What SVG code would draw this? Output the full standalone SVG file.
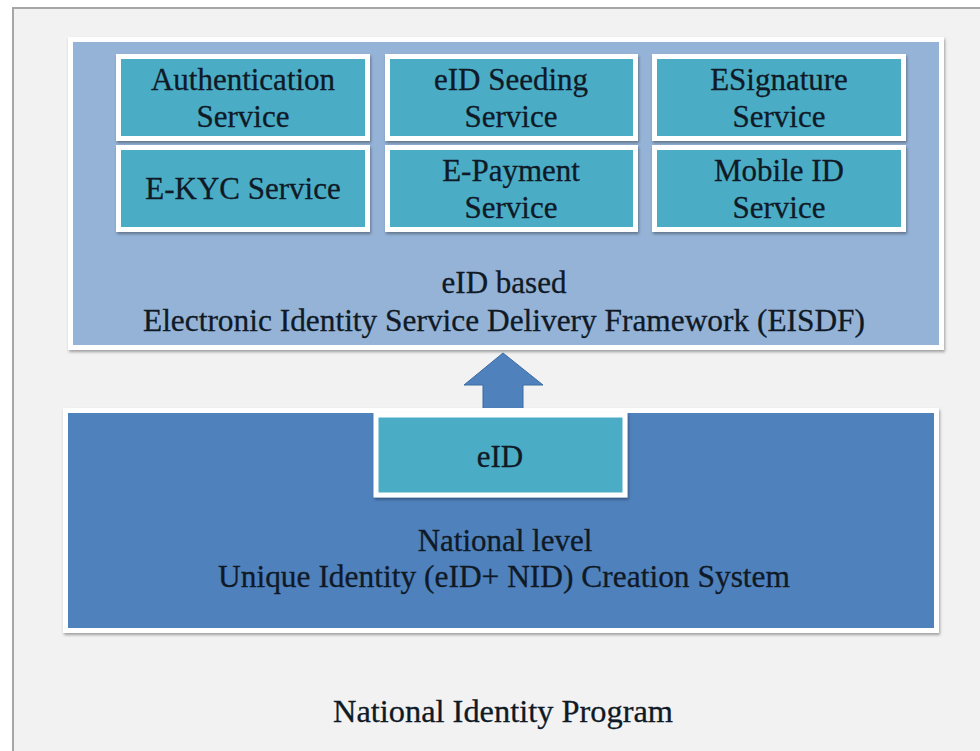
<svg xmlns="http://www.w3.org/2000/svg" width="980" height="751" viewBox="0 0 980 751">
<defs>
<filter id="sh" x="-5%" y="-5%" width="110%" height="115%">
<feDropShadow dx="1" dy="2" stdDeviation="1.5" flood-color="#000" flood-opacity="0.35"/>
</filter>
</defs>
<style>
.t{font-family:"Liberation Serif","DejaVu Serif",serif;fill:#0f1a26;text-anchor:middle;stroke:#0f1a26;stroke-width:0.3}
.s{font-size:31px}
.svc{fill:#4bacc6;stroke:#ffffff;stroke-width:5}
</style>
<rect x="0" y="0" width="980" height="751" fill="#ffffff"/>
<rect id="frame" x="13" y="8" width="990" height="760" fill="#f2f2f2" stroke="#a6a6a6" stroke-width="2"/>
<g id="eisdf">
<rect x="70.5" y="39.5" width="871" height="308" fill="#95b3d7" stroke="#ffffff" stroke-width="5" filter="url(#sh)"/>
<text class="t" x="504" y="293" font-size="31">eID based</text>
<text class="t" x="504" y="331" font-size="31" textLength="722" lengthAdjust="spacingAndGlyphs">Electronic Identity Service Delivery Framework (EISDF)</text>
</g>
<g id="auth">
<rect class="svc" x="118.5" y="56.5" width="249" height="82" filter="url(#sh)"/>
<text class="t s" x="243" y="90">Authentication</text>
<text class="t s" x="243" y="127">Service</text>
</g>
<g id="seeding">
<rect class="svc" x="387.5" y="56.5" width="248" height="82" filter="url(#sh)"/>
<text class="t s" x="511" y="90">eID Seeding</text>
<text class="t s" x="511" y="127">Service</text>
</g>
<g id="esign">
<rect class="svc" x="654.5" y="56.5" width="249" height="82" filter="url(#sh)"/>
<text class="t s" x="779" y="90">ESignature</text>
<text class="t s" x="779" y="127">Service</text>
</g>
<g id="ekyc">
<rect class="svc" x="118.5" y="147.5" width="249" height="82" filter="url(#sh)"/>
<text class="t s" x="243" y="199">E-KYC Service</text>
</g>
<g id="epay">
<rect class="svc" x="387.5" y="147.5" width="248" height="82" filter="url(#sh)"/>
<text class="t s" x="511" y="181">E-Payment</text>
<text class="t s" x="511" y="218">Service</text>
</g>
<g id="mobile">
<rect class="svc" x="654.5" y="147.5" width="249" height="82" filter="url(#sh)"/>
<text class="t s" x="779" y="181">Mobile ID</text>
<text class="t s" x="779" y="218">Service</text>
</g>
<g id="connectors">
<polygon points="503,353 543,385 523,385 523,414 483,414 483,385 464,385" fill="#4f81bd" stroke="#3a6aa3" stroke-width="1"/>
</g>
<g id="nid">
<rect x="65.5" y="410.5" width="871" height="220" fill="#4f81bd" stroke="#ffffff" stroke-width="5" filter="url(#sh)"/>
<text class="t" x="505" y="551" font-size="31">National level</text>
<text class="t" x="504" y="587" font-size="31" textLength="572" lengthAdjust="spacingAndGlyphs">Unique Identity (eID+ NID) Creation System</text>
</g>
<g id="eid">
<rect class="svc" x="376" y="415" width="249" height="80" filter="url(#sh)"/>
<text class="t s" x="500" y="467">eID</text>
</g>
<g id="program">
<text class="t" x="503" y="722" font-size="31" textLength="340" lengthAdjust="spacingAndGlyphs">National Identity Program</text>
</g>
</svg>
